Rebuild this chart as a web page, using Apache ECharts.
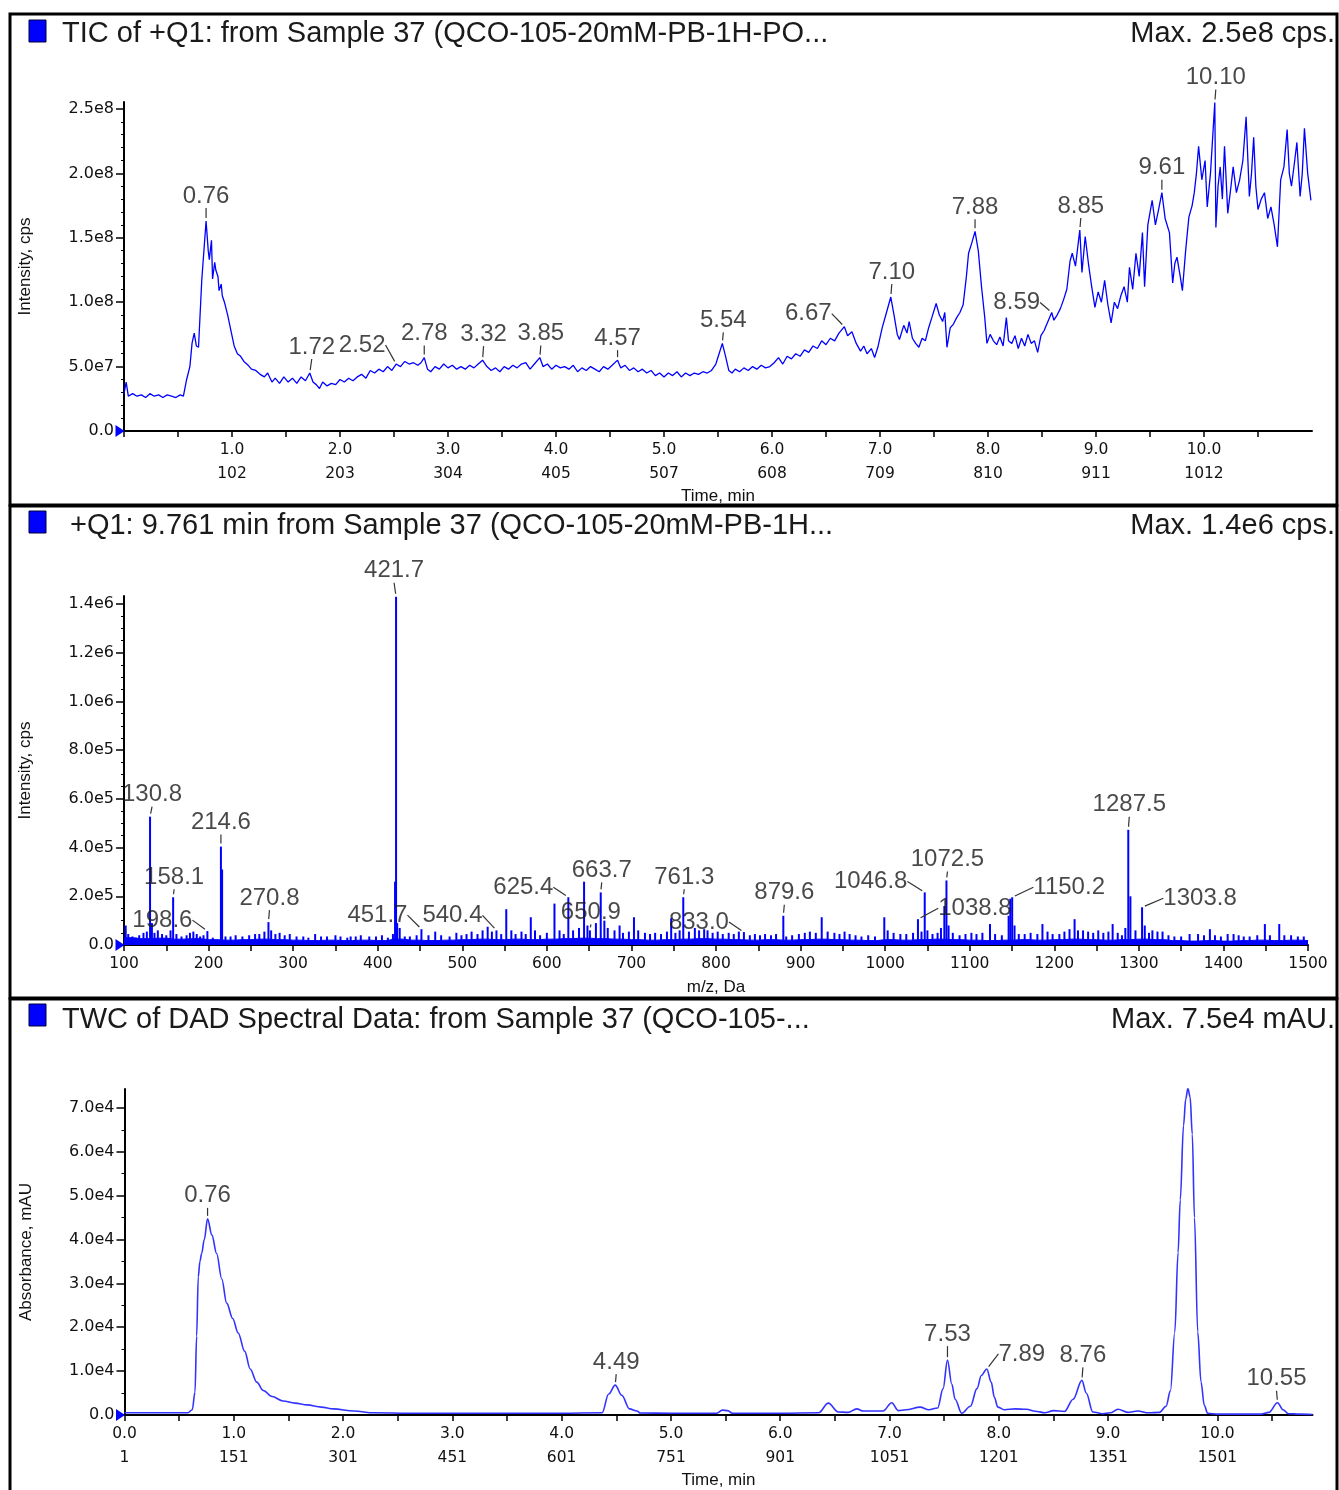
<!DOCTYPE html>
<html><head><meta charset="utf-8">
<script src="https://cdn.jsdelivr.net/npm/echarts@6/dist/echarts.min.js"></script>
<style>html,body{margin:0;padding:0;background:#fff}#c{width:1339px;height:1490px}</style>
</head><body><div id="c"></div>
<script>
// ---------- Panel titles ----------
const ticTitle = 'TIC of +Q1: from Sample 37 (QCO-105-20mM-PB-1H-PO...';
const ticMax = 'Max. 2.5e8 cps.';
const msTitle = '+Q1: 9.761 min from Sample 37 (QCO-105-20mM-PB-1H...';
const msMax = 'Max. 1.4e6 cps.';
const dadTitle = 'TWC of DAD Spectral Data: from Sample 37 (QCO-105-...';
const dadMax = 'Max. 7.5e4 mAU.';

// ---------- Tick labels ----------
const ticTimeTicks = [1,2,3,4,5,6,7,8,9,10];
const ticScanLabels = ['102','203','304','405','507','608','709','810','911','1012'];
const ticMinorTicks = [0,0.5,1,1.5,2,2.5,3,3.5,4,4.5,5,5.5,6,6.5,7,7.5,8,8.5,9,9.5,10,10.5];
const ticYTicks = [0,5e7,1e8,1.5e8,2e8,2.5e8];
const msXTicks = [100,200,300,400,500,600,700,800,900,1000,1100,1200,1300,1400,1500];
const msMinorTicks = [100,150,200,250,300,350,400,450,500,550,600,650,700,750,800,850,900,950,1000,1050,1100,1150,1200,1250,1300,1350,1400,1450,1500];
const msYTicks = [0,2e5,4e5,6e5,8e5,1e6,1.2e6,1.4e6];
const dadTimeTicks = [0,1,2,3,4,5,6,7,8,9,10];
const dadScanLabels = ['1','151','301','451','601','751','901','1051','1201','1351','1501'];
const dadMinorTicks = [0,0.5,1,1.5,2,2.5,3,3.5,4,4.5,5,5.5,6,6.5,7,7.5,8,8.5,9,9.5,10,10.5];
const dadYTicks = [0,1e4,2e4,3e4,4e4,5e4,6e4,7e4];

// ---------- TIC trace: [time min, intensity (1e6 cps)] ----------
const ticTrace = [
[0.00,29],[0.02,38],[0.04,27],[0.08,29],[0.12,27],[0.16,28],[0.20,26],[0.24,29],[0.28,27],[0.32,28],[0.36,26],[0.40,28],[0.44,27],[0.48,26],[0.52,28],[0.55,27],[0.58,40],[0.61,50],[0.63,68],[0.65,76],[0.67,66],[0.69,65],[0.72,117],[0.76,163],[0.78,140],[0.79,133],[0.81,148],[0.82,118],[0.84,131],[0.85,125],[0.87,120],[0.88,109],[0.90,114],[0.91,105],[0.93,100],[0.96,90],[0.99,78],[1.02,66],[1.05,60],[1.08,58],[1.11,54],[1.15,51],[1.18,48],[1.22,47],[1.26,44],[1.30,42],[1.33,45],[1.37,38],[1.40,41],[1.44,37],[1.48,42],[1.52,38],[1.56,41],[1.60,37],[1.64,42],[1.68,39],[1.72,45],[1.75,38],[1.78,36],[1.81,33],[1.84,38],[1.88,35],[1.92,37],[1.96,36],[2.00,40],[2.04,38],[2.08,41],[2.12,39],[2.16,42],[2.20,44],[2.24,41],[2.28,47],[2.32,45],[2.36,48],[2.40,46],[2.44,50],[2.48,47],[2.52,52],[2.56,50],[2.60,54],[2.64,52],[2.68,53],[2.72,51],[2.75,53],[2.78,57],[2.81,48],[2.84,46],[2.88,50],[2.92,48],[2.96,52],[3.00,49],[3.04,51],[3.08,48],[3.12,50],[3.16,48],[3.20,51],[3.24,49],[3.28,52],[3.32,55],[3.36,50],[3.40,47],[3.44,49],[3.48,46],[3.52,50],[3.56,48],[3.60,51],[3.64,49],[3.68,52],[3.72,53],[3.76,48],[3.80,52],[3.85,57],[3.88,50],[3.92,52],[3.96,48],[4.00,51],[4.04,49],[4.08,50],[4.12,48],[4.16,51],[4.20,46],[4.24,49],[4.28,47],[4.32,50],[4.36,48],[4.40,46],[4.44,50],[4.48,48],[4.52,51],[4.57,55],[4.60,49],[4.64,51],[4.68,47],[4.72,49],[4.76,46],[4.80,48],[4.84,45],[4.88,47],[4.92,43],[4.96,45],[5.00,42],[5.04,45],[5.08,43],[5.12,46],[5.16,42],[5.20,45],[5.24,43],[5.28,45],[5.32,44],[5.36,46],[5.40,45],[5.44,47],[5.48,52],[5.51,60],[5.54,68],[5.57,58],[5.60,47],[5.63,45],[5.66,48],[5.70,46],[5.74,49],[5.78,47],[5.82,50],[5.86,48],[5.90,51],[5.94,49],[5.98,50],[6.02,53],[6.06,57],[6.10,52],[6.14,58],[6.18,56],[6.22,60],[6.26,58],[6.30,63],[6.34,61],[6.38,66],[6.42,64],[6.46,70],[6.50,67],[6.54,72],[6.58,70],[6.62,76],[6.67,81],[6.70,74],[6.74,77],[6.78,68],[6.82,62],[6.85,66],[6.88,60],[6.92,64],[6.95,57],[6.98,65],[7.02,80],[7.06,92],[7.10,104],[7.13,90],[7.16,75],[7.18,71],[7.22,82],[7.25,76],[7.27,85],[7.30,72],[7.33,68],[7.36,65],[7.39,72],[7.42,70],[7.45,80],[7.48,88],[7.52,99],[7.55,90],[7.58,85],[7.60,92],[7.62,65],[7.65,80],[7.68,83],[7.71,88],[7.74,92],[7.77,98],[7.80,120],[7.82,138],[7.85,146],[7.88,155],[7.91,140],[7.94,112],[7.97,88],[7.99,68],[8.02,75],[8.05,70],[8.08,67],[8.11,73],[8.14,66],[8.17,88],[8.19,70],[8.22,68],[8.25,74],[8.28,64],[8.31,72],[8.34,66],[8.37,75],[8.40,68],[8.43,70],[8.46,61],[8.49,74],[8.52,78],[8.55,84],[8.59,92],[8.61,86],[8.64,90],[8.67,95],[8.70,102],[8.73,110],[8.76,132],[8.78,138],[8.81,128],[8.85,156],[8.87,123],[8.90,151],[8.93,130],[8.96,112],[8.99,96],[9.02,108],[9.05,100],[9.08,117],[9.11,98],[9.14,84],[9.17,100],[9.20,95],[9.23,105],[9.26,112],[9.29,100],[9.31,127],[9.34,110],[9.37,138],[9.40,120],[9.43,154],[9.45,112],[9.48,160],[9.52,179],[9.55,160],[9.58,172],[9.61,185],[9.64,165],[9.68,154],[9.71,115],[9.73,130],[9.75,135],[9.78,120],[9.80,109],[9.83,140],[9.86,166],[9.89,175],[9.91,185],[9.93,200],[9.95,221],[9.98,195],[10.01,210],[10.03,174],[10.06,200],[10.10,255],[10.11,158],[10.13,190],[10.15,205],[10.17,180],[10.19,221],[10.22,169],[10.25,190],[10.27,205],[10.30,185],[10.33,195],[10.36,210],[10.39,244],[10.42,182],[10.44,200],[10.46,228],[10.48,190],[10.50,172],[10.53,180],[10.56,185],[10.59,165],[10.62,174],[10.65,160],[10.68,143],[10.71,195],[10.74,205],[10.77,234],[10.79,200],[10.81,190],[10.84,210],[10.86,224],[10.89,182],[10.91,200],[10.93,235],[10.96,200],[10.99,179]
];
const ticPeakTimes = [0.76,1.72,2.52,2.78,3.32,3.85,4.57,5.54,6.67,7.10,7.88,8.59,8.85,9.61,10.10];

// ---------- Mass spectrum sticks: [m/z, intensity (1e3 cps)] ----------
const msSticks = [
[102,80],[105,45],[110,35],[114,30],[118,40],[123,50],[127,55],[130.8,527],[133,90],[136,50],[140,60],[145,45],[150,40],[155,60],[158.1,196],[162,45],[168,35],[174,40],[178,50],[182,55],[186,45],[190,35],[194,40],[198.6,57],[205,30],[214.6,404],[216,310],[220,35],[226,35],[232,40],[240,35],[248,40],[255,45],[260,45],[266,55],[270.8,94],[274,60],[279,45],[284,50],[290,40],[296,45],[304,35],[312,35],[318,30],[326,45],[333,35],[340,35],[350,40],[356,35],[364,30],[368,35],[374,35],[380,40],[390,35],[398,35],[405,40],[412,30],[418,45],[420.5,260],[421.7,1430],[423,90],[426,70],[432,35],[438,35],[446,40],[451.7,65],[460,40],[468,55],[475,40],[485,35],[493,50],[499,40],[505,45],[511,55],[518,45],[524,60],[530,75],[535,55],[540.4,60],[546,45],[552,147],[558,60],[563,45],[570,55],[575,45],[581,114],[586,60],[592,40],[600,50],[609,170],[615,60],[620,45],[625.4,196],[631,60],[638,70],[644,260],[648,80],[650.9,60],[658,90],[663.7,216],[668,100],[672,70],[680,60],[686,80],[690,50],[697,55],[703,114],[708,60],[716,50],[722,45],[728,50],[735,45],[742,55],[747,110],[752,50],[757,60],[761.3,196],[768,55],[775,70],[780,60],[786,65],[790,60],[796,50],[802,55],[808,45],[815,50],[821,45],[827,55],[833.0,53],[840,40],[846,45],[852,40],[858,45],[865,40],[871,45],[879.6,120],[883,35],[890,40],[898,45],[905,50],[911,55],[918,50],[925,114],[932,55],[940,50],[946,45],[952,55],[958,45],[965,40],[972,35],[980,40],[988,35],[999,114],[1003,60],[1010,50],[1018,45],[1025,45],[1033,50],[1038.8,106],[1043,55],[1046.8,216],[1050,60],[1056,45],[1062,50],[1066,70],[1070,160],[1072.5,265],[1075,80],[1080,50],[1088,40],[1095,45],[1102,50],[1108,45],[1115,50],[1124,86],[1130,45],[1138,40],[1146,120],[1148,190],[1150.2,196],[1153,80],[1158,45],[1165,45],[1172,50],[1180,45],[1186,86],[1192,55],[1198,45],[1206,45],[1212,55],[1218,65],[1224,106],[1228,60],[1234,60],[1240,55],[1246,50],[1252,60],[1258,50],[1264,55],[1269,86],[1275,50],[1280,40],[1284,70],[1287.5,473],[1290,200],[1296,60],[1303.8,155],[1307,80],[1312,50],[1316,60],[1322,55],[1328,55],[1335,40],[1342,35],[1350,35],[1360,45],[1370,45],[1377,40],[1384,65],[1390,40],[1397,35],[1405,45],[1412,45],[1418,40],[1424,35],[1431,35],[1440,40],[1449,86],[1455,40],[1466,86],[1472,40],[1480,40],[1488,35],[1495,35]
];
// dense baseline band of the spectrum: [m/z, intensity (1e3 cps)]
const msBaseline = [
[100,30],[120,26],[140,28],[160,24],[180,26],[200,22],[220,20],[240,22],[260,24],[280,22],[300,20],[320,18],[340,20],[360,18],[380,20],[400,18],[420,24],[440,20],[460,18],[480,20],[500,22],[520,24],[540,22],[560,24],[580,22],[600,24],[620,26],[640,28],[660,26],[680,24],[700,22],[720,20],[740,22],[760,24],[780,26],[800,24],[820,22],[840,20],[860,22],[880,20],[900,22],[920,24],[940,22],[960,20],[980,18],[1000,22],[1020,20],[1040,22],[1060,24],[1080,22],[1100,20],[1120,18],[1140,20],[1160,22],[1180,20],[1200,22],[1220,24],[1240,22],[1260,20],[1280,22],[1300,24],[1320,22],[1340,18],[1360,16],[1380,18],[1400,16],[1420,18],[1440,20],[1460,18],[1480,20],[1500,18]
];
const msPeakLabels = [130.8,158.1,198.6,214.6,270.8,421.7,451.7,540.4,625.4,650.9,663.7,761.3,833.0,879.6,1038.8,1046.8,1072.5,1150.2,1287.5,1303.8];

// ---------- DAD trace: [time min, absorbance (1e3 mAU)] ----------
const dadTrace = [
[0.00,0.5],[0.30,0.5],[0.58,0.5],[0.62,1.2],[0.645,5.2],[0.66,18],[0.675,31.5],[0.69,35],[0.706,36.8],[0.73,40],[0.76,44.7],[0.80,41],[0.843,36.8],[0.89,31],[0.935,25.5],[0.99,22],[1.04,18.7],[1.10,14.5],[1.15,10.5],[1.21,7.5],[1.27,5.6],[1.35,4.2],[1.45,3.2],[1.56,2.7],[1.67,2.3],[1.80,1.8],[1.91,1.4],[2.10,0.9],[2.28,0.5],[2.60,0.4],[3.00,0.4],[3.50,0.4],[4.00,0.4],[4.37,0.5],[4.43,4.8],[4.49,6.8],[4.55,4.5],[4.62,1.4],[4.69,0.9],[4.72,0.45],[5.00,0.4],[5.42,0.4],[5.47,1.1],[5.52,1.0],[5.56,0.4],[6.00,0.4],[6.35,0.5],[6.44,2.7],[6.53,0.7],[6.62,0.6],[6.70,1.4],[6.76,0.9],[6.94,0.9],[7.02,2.8],[7.08,1.0],[7.15,1.2],[7.28,1.8],[7.36,1.2],[7.44,1.6],[7.49,6],[7.53,12.5],[7.57,7],[7.60,3.6],[7.66,0.4],[7.74,2.0],[7.80,6.0],[7.84,9.0],[7.89,10.5],[7.93,7.5],[7.96,4.0],[7.99,1.8],[8.05,1.2],[8.15,1.4],[8.25,1.3],[8.35,0.8],[8.42,0.5],[8.50,1.0],[8.60,0.8],[8.68,3.6],[8.76,7.9],[8.80,5],[8.86,0.7],[8.95,0.3],[9.02,0.5],[9.09,1.3],[9.18,0.6],[9.27,0.9],[9.37,0.5],[9.47,0.6],[9.53,2.0],[9.57,5.5],[9.61,18.9],[9.64,37],[9.66,49],[9.69,66],[9.71,72],[9.73,74.5],[9.75,72.5],[9.77,64],[9.79,45],[9.82,18.9],[9.85,7.5],[9.88,2.2],[9.91,0.4],[10.00,0.2],[10.20,0.2],[10.40,0.2],[10.47,0.6],[10.55,2.8],[10.60,1.2],[10.65,0.3],[10.75,0.2],[10.87,0.1]
];
const dadPeakTimes = [0.76,4.49,7.53,7.89,8.76,9.73,10.55];

// ---------- label leader offsets (style, px) ----------
const ticLabelShift = [[0,-10],[2,-11],[-34,-4],[0,-9],[1,-11],[1,-9],[0,-7],[1,-8],[-36,2],[1,-10],[0,-9],[-35,5],[1,-9],[0,-10],[1,-10]];
const msLabelShift = [[2,-7],[1,-5],[-45,4],[0,-9],[1,-9],[-2,-11],[-44,1],[-44,0],[-45,5],[1,-3],[1,-7],[1,-5],[-45,5],[1,-8],[57,4],[-54,4],[1,-6],[57,5],[1,-10],[58,6]];
const dadLabelShift = [[0,-8],[1,-8],[0,-11],[35,0],[1,-10],[0,-8],[-1,-9]];

// ---------- build ----------
const FONT = 'Liberation Sans, Arial, sans-serif';
const TICKFONT = 'DejaVu Sans, Verdana, sans-serif';
const TXT = '#111';
const findVal = (arr, x) => arr.find(d => Math.abs(d[0] - x) < 1e-9)[1];
const expFmt = v => v === 0 ? '0.0' : v.toExponential(1).replace('e+', 'e');

const ticData = ticTrace.map(d => [d[0], d[1] * 1e6]);
const ticPeaks = ticPeakTimes.map(t => [t, findVal(ticTrace, t) * 1e6, t.toFixed(2)]);
const msData = msSticks.map(d => [d[0], d[1] * 1e3]);
const msBase = msBaseline.map(d => [d[0], d[1] * 1e3]);
const msPeaks = msPeakLabels.map(m => [m, findVal(msSticks, m) * 1e3, m.toFixed(1)]);
const dadData = dadTrace.map(d => [d[0], d[1] * 1e3]);
const dadPeaks = dadPeakTimes.map(t => [t, findVal(dadTrace, t) * 1e3, t.toFixed(2)]);

function xAxisCommon(gi, min, max, minorTicks, labelTicks, fmt, name, gap) {
  return {
    type: 'value', gridIndex: gi, min: min, max: max,
    axisLine: { show: true, onZero: false, lineStyle: { color: '#000', width: 2 } },
    axisTick: { show: true, customValues: minorTicks, length: 6, lineStyle: { color: '#000', width: 1.5 } },
    axisLabel: { customValues: labelTicks, formatter: fmt, fontFamily: TICKFONT, fontSize: 15.5, color: TXT, lineHeight: 24, margin: 7 },
    splitLine: { show: false },
    name: name, nameLocation: 'middle', nameGap: gap,
    nameTextStyle: { fontFamily: FONT, fontSize: 17, color: TXT }
  };
}
function yAxisCommon(gi, max, interval, ticks, split, name) {
  return {
    type: 'value', gridIndex: gi, min: 0, max: max, interval: interval,
    axisLine: { show: true, onZero: false, lineStyle: { color: '#000', width: 2 } },
    axisTick: { show: true, customValues: ticks, length: 8, lineStyle: { color: '#000', width: 1.5 } },
    minorTick: { show: true, splitNumber: split, length: 3, lineStyle: { color: '#000', width: 1 } },
    axisLabel: { customValues: ticks, formatter: expFmt, fontFamily: TICKFONT, fontSize: 16, color: TXT, margin: 10 },
    splitLine: { show: false },
    name: name, nameLocation: 'middle', nameGap: 90,
    nameTextStyle: { fontFamily: FONT, fontSize: 17, color: TXT }
  };
}
function labelSeries(xi, data, shifts) {
  return {
    type: 'scatter', xAxisIndex: xi, yAxisIndex: xi, data: data,
    symbol: 'circle', symbolSize: 6, itemStyle: { color: 'rgba(0,0,0,0)' }, silent: true, z: 5,
    label: { show: true, position: 'top', distance: 0, formatter: p => p.data[2],
             fontFamily: FONT, fontSize: 24, color: '#1a1a1a', lineHeight: 24 },
    labelLine: { show: true, lineStyle: { color: '#333', width: 1.2 } },
    labelLayout: p => ({ dx: shifts[p.dataIndex][0], dy: shifts[p.dataIndex][1] })
  };
}
function originMark(x) {
  return { symbol: 'triangle', symbolRotate: -90, symbolSize: [12, 9], symbolOffset: [-4, 0],
           itemStyle: { color: '#0000ff' }, label: { show: false }, data: [{ coord: [x, 0] }] };
}

const chart = echarts.init(document.getElementById('c'), null, { renderer: 'canvas' });
const titleText = (txt, x, y, align) => ({
  type: 'text', x: x, y: y, silent: true,
  style: { text: txt, font: '29px ' + FONT, fill: '#1a1a1a', textAlign: align, textVerticalAlign: 'middle', align: align, verticalAlign: 'middle' }
});
const square = y => ({ type: 'rect', shape: { x: 29, y: y, width: 17, height: 22 }, style: { fill: '#0000ff', stroke: '#00003a', lineWidth: 1 }, silent: true });
const frame = (y, h) => ({ type: 'rect', shape: { x: 10, y: y, width: 1327, height: h }, style: { fill: 'none', stroke: '#000', lineWidth: 3 }, silent: true, z: 100 });

chart.setOption({
  animation: false,
  backgroundColor: '#fff',
  graphic: [
    frame(14, 491), frame(506, 492), frame(999, 495),
    square(20), square(511), square(1004),
    titleText(ticTitle, 62, 34, 'left'), titleText(ticMax, 1335, 34, 'right'),
    titleText(msTitle, 70, 526, 'left'), titleText(msMax, 1335, 526, 'right'),
    titleText(dadTitle, 62, 1020, 'left'), titleText(dadMax, 1335, 1020, 'right')
  ],
  grid: [
    { left: 124, top: 102, width: 1188, height: 329 },
    { left: 124, top: 596, width: 1184, height: 349 },
    { left: 124.5, top: 1089, width: 1188, height: 329 }
  ],
  xAxis: [
    xAxisCommon(0, 0, 11, ticMinorTicks, ticTimeTicks,
      v => { const i = ticTimeTicks.indexOf(v); return i < 0 ? '' : v.toFixed(1) + '\n' + ticScanLabels[i]; }, 'Time, min', 57),
    xAxisCommon(1, 100, 1500, msMinorTicks, msXTicks, v => String(v), 'm/z, Da', 34),
    xAxisCommon(2, 0, 10.87, dadMinorTicks, dadTimeTicks,
      v => { const i = dadTimeTicks.indexOf(v); return i < 0 ? '' : v.toFixed(1) + '\n' + dadScanLabels[i]; }, 'Time, min', 57)
  ],
  yAxis: [
    yAxisCommon(0, 2.554e8, 5e7, ticYTicks, 5, 'Intensity, cps'),
    yAxisCommon(1, 1.433e6, 2e5, msYTicks, 4, 'Intensity, cps'),
    yAxisCommon(2, 74300, 1e4, dadYTicks, 2, 'Absorbance, mAU')
  ],
  series: [
    { type: 'line', xAxisIndex: 0, yAxisIndex: 0, data: ticData, showSymbol: false, symbol: 'none',
      lineStyle: { color: '#0000ff', width: 1.3 }, z: 3, markPoint: originMark(0) },
    labelSeries(0, ticPeaks, ticLabelShift),
    { type: 'line', xAxisIndex: 1, yAxisIndex: 1, data: msBase, step: 'middle', symbol: 'none',
      lineStyle: { color: '#0000ff', width: 1 }, areaStyle: { color: '#0000ff', opacity: 1 }, z: 2, markPoint: originMark(100) },
    { type: 'bar', xAxisIndex: 1, yAxisIndex: 1, data: msData, barWidth: 2,
      itemStyle: { color: '#0000ff' }, z: 3 },
    labelSeries(1, msPeaks, msLabelShift),
    { type: 'line', xAxisIndex: 2, yAxisIndex: 2, data: dadData, symbol: 'none', smooth: 0.35, smoothMonotone: 'x',
      lineStyle: { color: '#3333ff', width: 1.6 }, z: 3, markPoint: originMark(0) },
    labelSeries(2, dadPeaks, dadLabelShift)
  ]
});
</script>
</body></html>
